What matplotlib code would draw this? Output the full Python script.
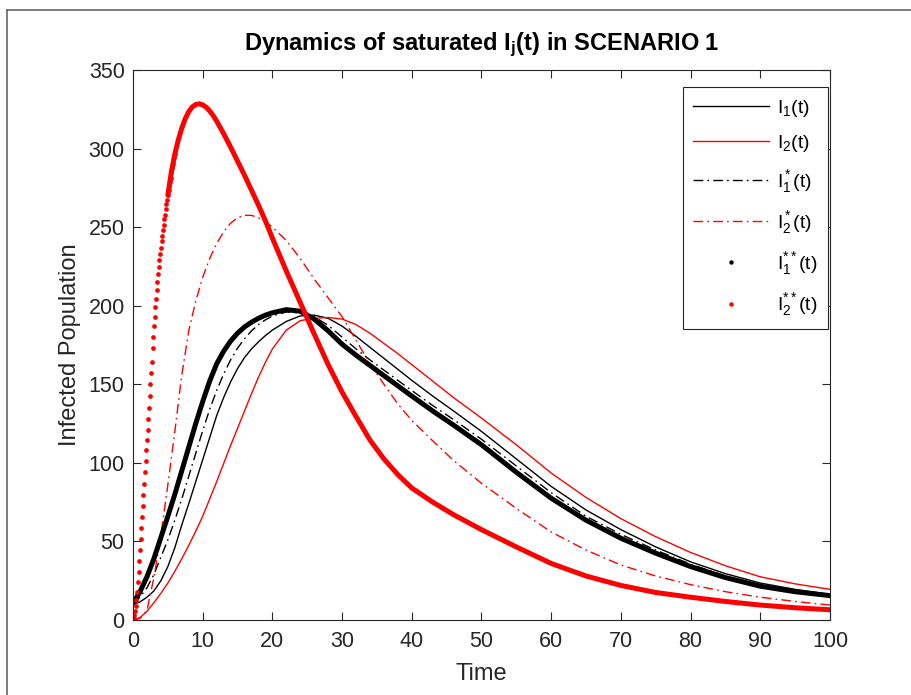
import matplotlib
matplotlib.use('Agg')
import matplotlib.pyplot as plt
from matplotlib.lines import Line2D

# ---------------- data ----------------
t = [0, 1, 2, 3, 4, 5, 6, 7, 8, 9, 10, 11, 12, 13, 14, 15, 16, 17, 18, 19, 20,
     22, 24, 26, 28, 30, 32, 34, 36, 38, 40, 43, 46, 50, 55, 60, 65, 70, 75, 80,
     85, 90, 95, 100]

i1 = [10, 11.5, 14.5, 18.5, 25, 34, 46, 60.5, 74, 88, 102, 116, 130, 141.5, 151.5,
      160, 167, 172.5, 177, 181, 184.5, 190, 193.5, 194, 192, 187, 180.5, 173.5,
      166.5, 159.5, 152.5, 142.5, 133, 120, 102.5, 85, 70, 57.5, 46.5, 37, 29.5,
      23.5, 19.5, 16.3]

i2 = [0, 1.5, 5.5, 11, 17, 23.5, 31, 39, 47.5, 56.5, 66, 77, 88, 99.5, 111, 122,
      133, 144, 154.5, 164, 172.5, 184.5, 190.5, 192, 192.5, 191.5, 188, 182.5,
      176, 169.5, 162.5, 152, 141.5, 128.5, 111.5, 93.5, 78, 64.5, 53, 43, 34.5,
      27.5, 23, 19.5]

i1s = [10, 14.5, 20.5, 29, 40, 51, 63.5, 77, 91.5, 106, 120.5, 134, 146, 156.5,
       165.5, 173, 179, 184, 188, 191, 193.5, 196, 195.5, 193, 187.5, 180, 172.5,
       165.5, 159, 152.5, 146, 136.5, 127.5, 115, 98, 81, 66, 54.5, 44.5, 35.5,
       28, 22.5, 18.5, 15.8]

i2s = [0, 1, 6, 27, 54, 86, 120, 156, 184, 203, 218, 230, 239.5, 247, 252.5, 256,
       257.5, 257.5, 256, 253.5, 250, 241.5, 230, 217, 205, 193, 178, 163, 150,
       137.5, 127, 114, 101.5, 87, 71, 56, 44.5, 35, 28, 22.5, 18, 14.5, 11.8, 9.5]

i1ss = [10.5, 18, 27.5, 39, 52.5, 66, 80, 95, 110, 125, 139, 152, 163, 171, 177.5,
        182.5, 186.5, 189.5, 192, 194, 195.5, 197.5, 196.5, 191.5, 184, 175.5,
        168.5, 162, 155.5, 149, 142.5, 133, 124, 111.5, 94, 77.5, 63.5, 52, 42.5,
        34, 27, 21.5, 18, 15.5]

# I2** has its own, finer time axis around the sharp peak
t_i2ss = [5, 5.5, 6, 6.5, 7, 7.5, 8, 8.5, 9, 9.5, 10, 10.5, 11, 11.5, 12, 13, 14,
          15, 16, 17, 18, 19, 20, 22, 24, 26, 28, 30, 32, 34, 36, 38, 40, 43, 46,
          50, 55, 60, 65, 70, 75, 80, 85, 90, 95, 100]
i2ss = [270.5, 285, 296.5, 305.5, 313, 319, 323.5, 326.5, 328, 328.5, 327.8,
        326.3, 324, 321, 317.5, 309.5, 301, 292, 283, 273.5, 264, 254, 243, 222,
        202, 182, 162.5, 145, 129.5, 114.5, 102.5, 92.5, 84, 75, 67, 57.5, 46.5,
        36, 28, 22, 17.5, 14.5, 11.8, 9.5, 7.8, 6.5]

# early part of I2** where the individual sample dots are visible
t_dense = [0.0, 0.1, 0.2, 0.3, 0.4, 0.5, 0.6, 0.7, 0.8, 0.9, 1.0, 1.1, 1.2, 1.3,
           1.4, 1.5, 1.6, 1.7, 1.8, 1.9, 2.0, 2.1, 2.2, 2.3, 2.4, 2.5, 2.6, 2.7,
           2.8, 2.9, 3.0, 3.1, 3.2, 3.3, 3.4, 3.5, 3.6, 3.7, 3.8, 3.9, 4.0, 4.1,
           4.2, 4.3, 4.4, 4.5, 4.6, 4.7, 4.8, 4.9, 5.0, 5.1, 5.2, 5.3, 5.4, 5.5,
           5.6, 5.7, 5.8, 5.9, 6.0]
i2ss_dense = [0, 1, 3, 5.5, 9, 13, 18, 24, 30.5, 37.5, 44.5, 51.5, 58.5, 65.5,
              72.5, 79.5, 86.5, 94, 101, 108, 114.5, 121, 128, 135, 142.5, 150,
              157, 164, 173, 180, 187, 193, 199, 204.5, 210, 215, 220, 224.5, 229,
              233, 237, 241, 244.5, 248, 251.5, 255, 258, 261.5, 264.5, 267.5,
              270.5, 273.5, 276.5, 279, 281.5, 285, 287.5, 290, 292.5, 294.5, 296.5]

x_ticks = [0, 10, 20, 30, 40, 50, 60, 70, 80, 90, 100]
y_ticks = [0, 50, 100, 150, 200, 250, 300, 350]

# ---------------- style ----------------
plt.rcParams['font.family'] = ['Liberation Sans', 'DejaVu Sans']
plt.rcParams['mathtext.fontset'] = 'custom'
plt.rcParams['mathtext.rm'] = 'Liberation Sans'
plt.rcParams['mathtext.it'] = 'Liberation Sans:italic'
plt.rcParams['mathtext.bf'] = 'Liberation Sans:bold'

fig = plt.figure(figsize=(9.12, 6.95), dpi=100)
ax = fig.add_axes([133 / 912, 75 / 695, 697 / 912, 550 / 695])

dd = (7, 3, 1.2, 3)
ax.plot(t, i1, color='k', lw=1.0)
ax.plot(t, i2, color='r', lw=1.0)
ax.plot(t, i1s, color='k', lw=1.0, dashes=dd)
ax.plot(t, i2s, color='r', lw=1.0, dashes=dd)
ax.plot(t, i1ss, color='k', lw=3.6, solid_capstyle='round', solid_joinstyle='round')
ax.plot(t_dense, i2ss_dense, ls='none', marker='o', ms=3.4, mew=0, color='r')
ax.plot(t_i2ss, i2ss, color='r', lw=3.6, solid_capstyle='round',
        solid_joinstyle='round')

ax.set_xlim(0, 100)
ax.set_ylim(0, 350)
ax.set_xticks(x_ticks)
ax.set_yticks(y_ticks)
ax.tick_params(direction='in', length=5.5, width=0.8, top=True, right=True,
               labelsize=15.5, colors='0.15')
ax.tick_params(axis='x', pad=8)
ax.tick_params(axis='y', pad=6)
for s in ax.spines.values():
    s.set_color('0.15')
    s.set_linewidth(0.8)

ax.set_xlabel('Time', fontsize=17, color='0.15', labelpad=8)
ax.set_ylabel('Infected Population', fontsize=17, color='0.15', labelpad=5)
ax.set_title(r'Dynamics of saturated I$_{\mathbf{j}}$(t) in SCENARIO 1',
             fontsize=17, fontweight='bold', pad=14)

handles = [
    Line2D([], [], color='k', lw=1.0),
    Line2D([], [], color='r', lw=1.0),
    Line2D([], [], color='k', lw=1.0, dashes=dd),
    Line2D([], [], color='r', lw=1.0, dashes=dd),
    Line2D([], [], ls='none', marker='o', ms=3.2, mew=0, color='k'),
    Line2D([], [], ls='none', marker='o', ms=3.2, mew=0, color='r'),
]
labels = [r'I$_1$(t)', r'I$_2$(t)', r'I$^*_1$(t)', r'I$^*_2$(t)',
          r'I$^{**}_1$(t)', r'I$^{**}_2$(t)']
leg = ax.legend(handles, labels, loc='upper right',
                bbox_to_anchor=((828 - 133) / 697, (620 - 87) / 550),
                borderaxespad=0, fontsize=14, handlelength=3.9,
                labelspacing=0.73, fancybox=False, framealpha=1,
                edgecolor='0.15', borderpad=0.55, handletextpad=0.4)
leg.get_frame().set_linewidth(0.8)

# screenshot frame lines (top and left)
fig.add_artist(Line2D([7 / 912, 7 / 912], [0, 1 - 10 / 695],
                      transform=fig.transFigure, color='0.4', lw=1.2))
fig.add_artist(Line2D([7 / 912, 1], [1 - 10 / 695, 1 - 10 / 695],
                      transform=fig.transFigure, color='0.4', lw=1.2))

fig.savefig('out.png', dpi=100)
